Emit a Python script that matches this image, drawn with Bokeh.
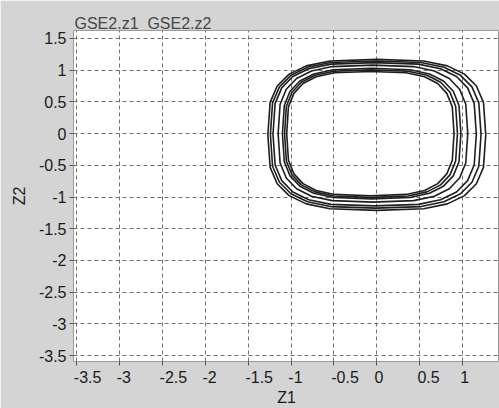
from bokeh.plotting import figure
from bokeh.embed import file_html
from bokeh.resources import INLINE
from bokeh.models import FixedTicker

# ---- tick values / labels ----
x_ticks = [-3.5, -3, -2.5, -2, -1.5, -1, -0.5, 0, 0.5, 1]
x_tick_labels = ["-3.5", "-3", "-2.5", "-2", "-1.5", "-1", "-0.5", "0", "0.5", "1"]
y_ticks = [1.5, 1, 0.5, 0, -0.5, -1, -1.5, -2, -2.5, -3, -3.5]
y_tick_labels = ["1.5", "1", "0.5", "0", "-0.5", "-1", "-1.5", "-2", "-2.5", "-3", "-3.5"]

series_names = ["GSE2.z1", "GSE2.z2"]
x_title = "Z1"
y_title = "Z2"

# ---- trajectory loops (Z1, Z2) ----
loop1_z1 = [0.900, 0.880, 0.816, 0.710, 0.557, 0.344, -0.075, -0.494, -0.707, -0.860, -0.966, -1.030, -1.050,
            -1.030, -0.966, -0.860, -0.707, -0.494, -0.075, 0.344, 0.557, 0.710, 0.816, 0.880, 0.900]
loop1_z2 = [0.000, 0.421, 0.635, 0.789, 0.896, 0.959, 0.980, 0.959, 0.896, 0.789, 0.635, 0.421, 0.000,
            -0.421, -0.635, -0.789, -0.896, -0.959, -0.980, -0.959, -0.896, -0.789, -0.635, -0.421, 0.000]

loop1b_z1 = [0.940, 0.919, 0.853, 0.744, 0.585, 0.366, -0.068, -0.501, -0.720, -0.879, -0.988, -1.054, -1.075,
             -1.054, -0.988, -0.879, -0.720, -0.501, -0.068, 0.366, 0.585, 0.744, 0.853, 0.919, 0.940]
loop1b_z2 = [0.000, 0.432, 0.651, 0.809, 0.919, 0.984, 1.005, 0.984, 0.919, 0.809, 0.651, 0.432, 0.000,
             -0.432, -0.651, -0.809, -0.919, -0.984, -1.005, -0.984, -0.919, -0.809, -0.651, -0.432, 0.000]

loop2_z1 = [0.980, 0.958, 0.891, 0.777, 0.614, 0.387, -0.060, -0.507, -0.734, -0.897, -1.011, -1.078, -1.100,
            -1.078, -1.011, -0.897, -0.734, -0.507, -0.060, 0.387, 0.614, 0.777, 0.891, 0.958, 0.980]
loop2_z2 = [0.000, 0.443, 0.667, 0.829, 0.941, 1.008, 1.030, 1.008, 0.941, 0.829, 0.667, 0.443, 0.000,
            -0.443, -0.667, -0.829, -0.941, -1.008, -1.030, -1.008, -0.941, -0.829, -0.667, -0.443, 0.000]

loop3_z1 = [1.060, 1.037, 0.965, 0.845, 0.671, 0.430, -0.045, -0.520, -0.761, -0.935, -1.055, -1.127, -1.150,
            -1.127, -1.055, -0.935, -0.761, -0.520, -0.045, 0.430, 0.671, 0.845, 0.965, 1.037, 1.060]
loop3_z2 = [0.000, 0.464, 0.700, 0.869, 0.987, 1.057, 1.080, 1.057, 0.987, 0.869, 0.700, 0.464, 0.000,
            -0.464, -0.700, -0.869, -0.987, -1.057, -1.080, -1.057, -0.987, -0.869, -0.700, -0.464, 0.000]

loop4_z1 = [1.160, 1.135, 1.058, 0.929, 0.743, 0.485, -0.025, -0.535, -0.793, -0.979, -1.108, -1.185, -1.210,
            -1.185, -1.108, -0.979, -0.793, -0.535, -0.025, 0.485, 0.743, 0.929, 1.058, 1.135, 1.160]
loop4_z2 = [-0.010, 0.476, 0.722, 0.900, 1.023, 1.096, 1.120, 1.096, 1.023, 0.900, 0.722, 0.476, -0.010,
            -0.496, -0.742, -0.920, -1.043, -1.116, -1.140, -1.116, -1.043, -0.920, -0.742, -0.496, -0.010]

loop4b_z1 = [1.215, 1.189, 1.109, 0.976, 0.783, 0.515, -0.013, -0.540, -0.808, -1.001, -1.135, -1.215, -1.240,
             -1.215, -1.135, -1.001, -0.808, -0.540, -0.013, 0.515, 0.783, 0.976, 1.109, 1.189, 1.215]
loop4b_z2 = [-0.015, 0.484, 0.737, 0.919, 1.045, 1.121, 1.145, 1.121, 1.045, 0.919, 0.737, 0.484, -0.015,
             -0.514, -0.767, -0.949, -1.075, -1.151, -1.175, -1.151, -1.075, -0.949, -0.767, -0.514, -0.015]

loop5_z1 = [1.270, 1.243, 1.161, 1.022, 0.823, 0.546, 0.000, -0.546, -0.823, -1.022, -1.161, -1.243, -1.270,
            -1.243, -1.161, -1.022, -0.823, -0.546, 0.000, 0.546, 0.823, 1.022, 1.161, 1.243, 1.270]
loop5_z2 = [-0.020, 0.492, 0.751, 0.938, 1.068, 1.145, 1.170, 1.145, 1.068, 0.938, 0.751, 0.492, -0.020,
            -0.532, -0.791, -0.978, -1.108, -1.185, -1.210, -1.185, -1.108, -0.978, -0.791, -0.532, -0.020]

loops = [(loop1_z1, loop1_z2), (loop1b_z1, loop1b_z2), (loop2_z1, loop2_z2), (loop3_z1, loop3_z2),
         (loop4_z1, loop4_z2), (loop4b_z1, loop4b_z2), (loop5_z1, loop5_z2)]

GRAY = "#d4d4d4"
FONT = "Liberation Sans"

p = figure(width=499, height=408, x_range=(-3.535, 1.43), y_range=(-3.594, 1.626),
           output_backend="svg", toolbar_location=None,
           min_border_left=73, min_border_right=0, min_border_top=30, min_border_bottom=46,
           background_fill_color="white", border_fill_color=GRAY)
p.outline_line_color = "#9a9a9a"

p.title.text = series_names[0] + "\u00a0\u00a0" + series_names[1]
p.title.align = "left"
p.title.offset = 1
try:
    p.title.standoff = -3
except Exception:
    p.title.standoff = 0
p.title.text_font = FONT
p.title.text_font_size = "16px"
p.title.text_font_style = "normal"
p.title.text_color = "#454545"

for xs, ys in loops:
    p.line(xs, ys, line_color="#1e1e1e", line_width=1.6)


# The reference draws x tick labels starting at the tick (left aligned).
# Bokeh centres axis labels, so pad each label on the left with no-break
# spaces of about the label's own width.
def left_pad(s):
    em = {"-": 0.333, ".": 0.278}
    w = sum(em.get(c, 0.556) for c in s)
    n = max(int(round(w / 0.278)) - 1, 1)
    return "\u00a0" * n + s


p.xaxis.ticker = FixedTicker(ticks=x_ticks)
p.yaxis.ticker = FixedTicker(ticks=y_ticks)
p.xaxis.major_label_overrides = {t: left_pad(s) for t, s in zip(x_ticks, x_tick_labels)}
p.yaxis.major_label_overrides = {t: s for t, s in zip(y_ticks, y_tick_labels)}

for ax in (p.xaxis, p.yaxis):
    ax.axis_line_color = None
    ax.major_tick_line_color = "#555555"
    ax.major_tick_in = 0
    ax.major_tick_out = 4
    ax.minor_tick_line_color = None
    ax.major_label_text_font = FONT
    ax.major_label_text_font_size = "16px"
    ax.major_label_text_color = "#1a1a1a"
    ax.major_label_standoff = 3
    ax.axis_label_text_font = FONT
    ax.axis_label_text_font_size = "16px"
    ax.axis_label_text_font_style = "normal"
    ax.axis_label_text_color = "#1a1a1a"

p.xaxis.axis_label = x_title
p.yaxis.axis_label = y_title
p.xaxis.axis_label_standoff = 0
p.yaxis.axis_label_standoff = 8

for g in (p.xgrid, p.ygrid):
    g.grid_line_color = "#707070"
    g.grid_line_dash = "4 3"
    g.grid_line_width = 1

open("out.html", "w").write(file_html(p, INLINE))
